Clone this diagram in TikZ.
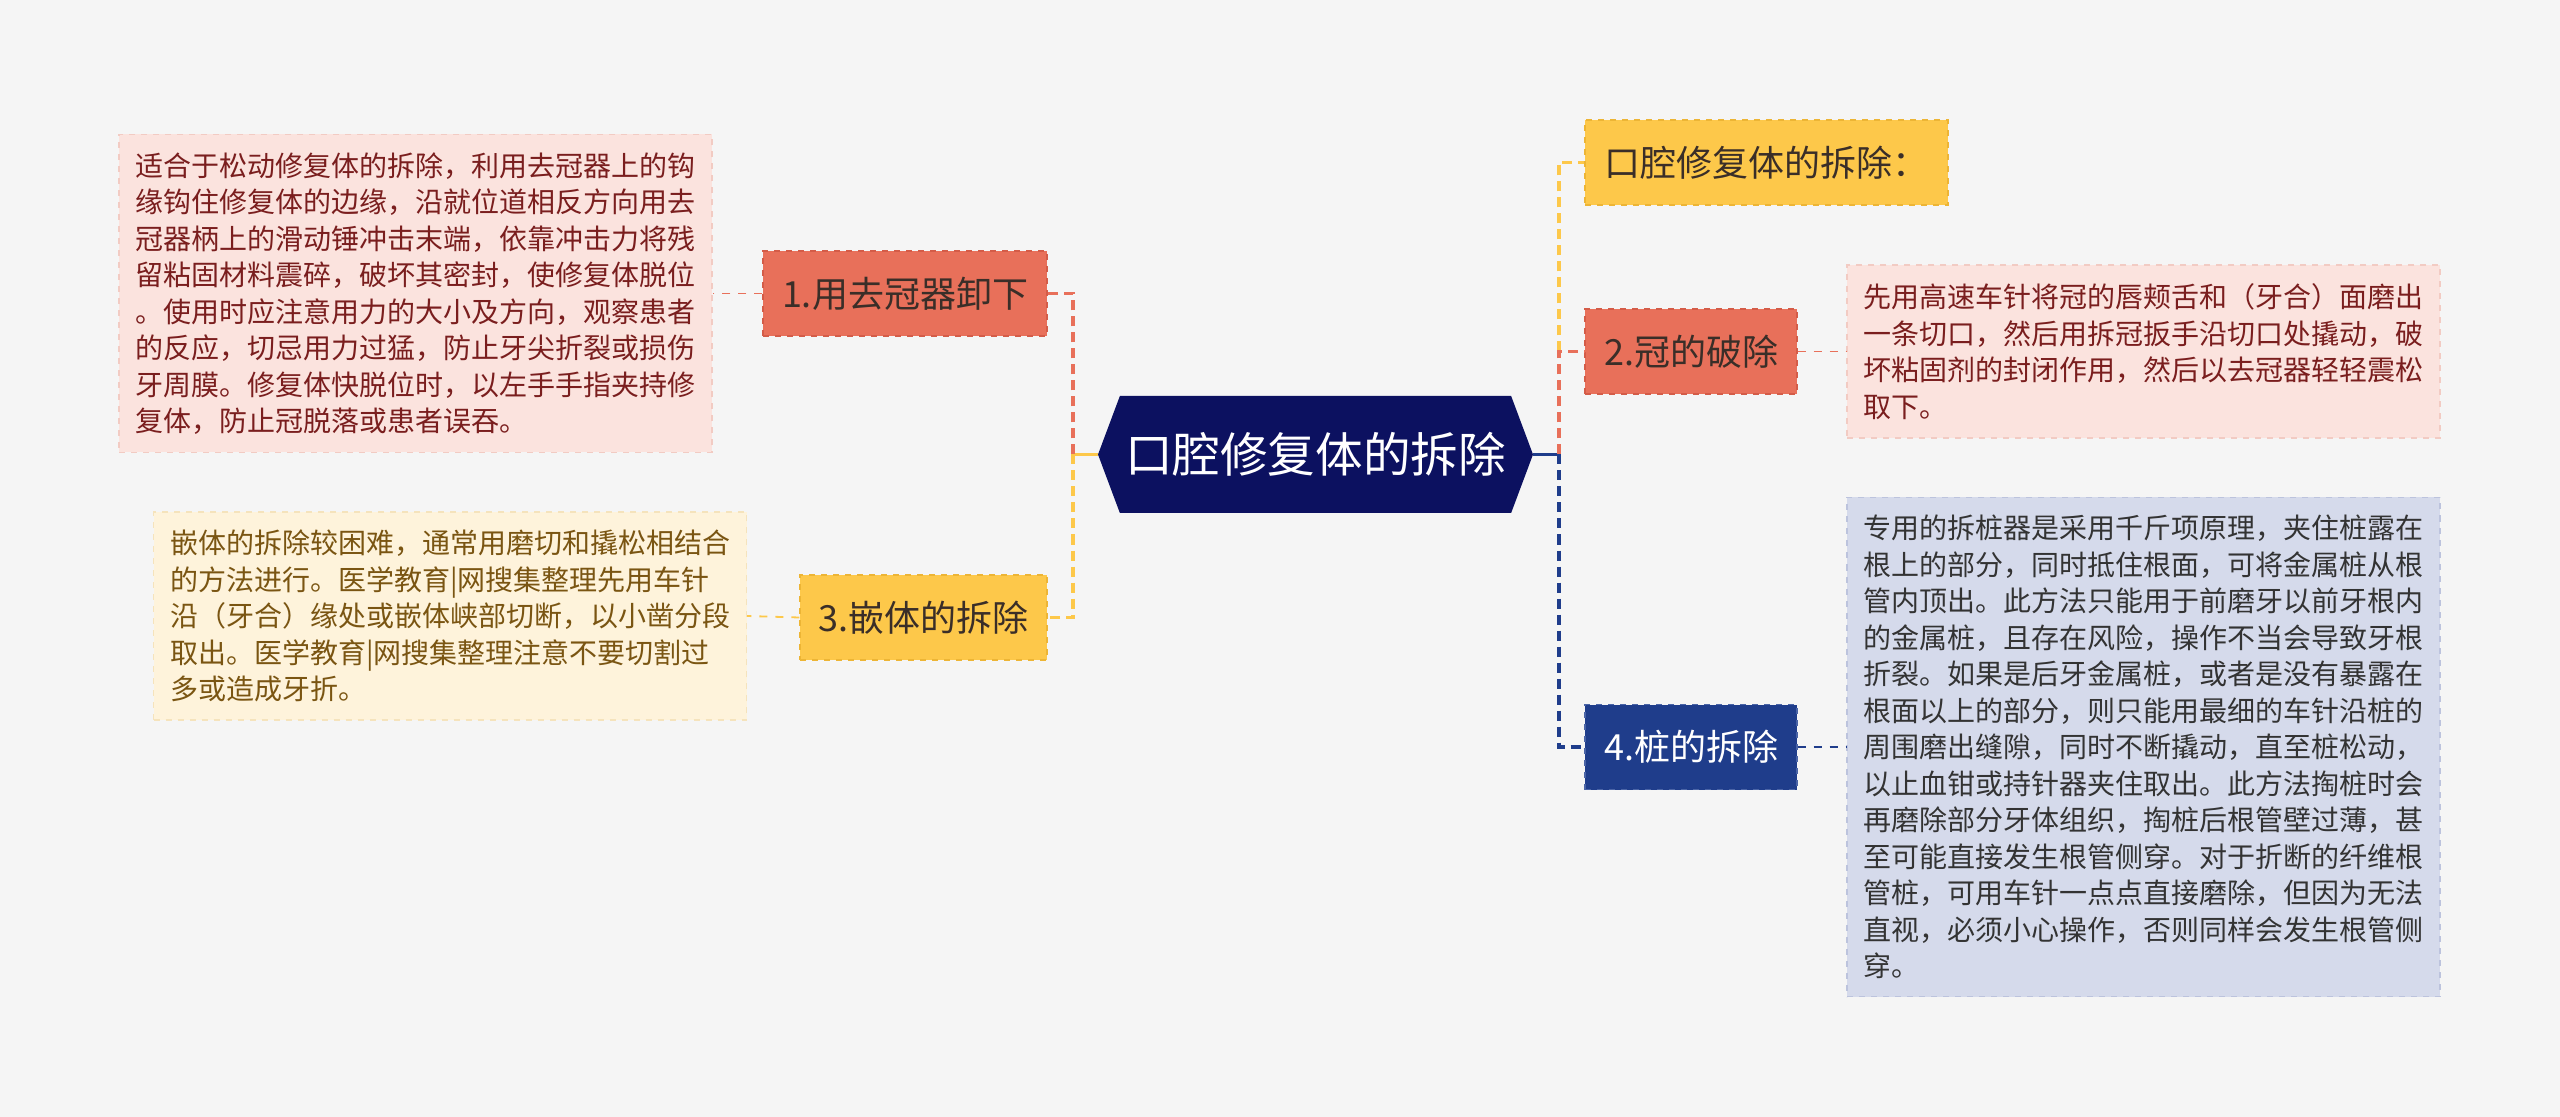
\documentclass[tikz,border=0pt]{standalone}
\usepackage{fontspec}
\setmainfont{Noto Sans CJK SC}
\usetikzlibrary{shapes.symbols}
\definecolor{paper}{HTML}{F5F5F5}
\definecolor{rootblue}{HTML}{0C1160}
\definecolor{coral}{HTML}{E8705A}
\definecolor{coralline}{HTML}{D45C48}
\definecolor{amber}{HTML}{FDC84A}
\definecolor{amberline}{HTML}{EDB535}
\definecolor{navy}{HTML}{1F3D8B}
\definecolor{navyline}{HTML}{4A64A6}
\definecolor{rose}{HTML}{FBE3DE}
\definecolor{roseline}{HTML}{F2CBC3}
\definecolor{cream}{HTML}{FEF3DB}
\definecolor{creamline}{HTML}{F5E3BC}
\definecolor{lilac}{HTML}{D5DAEB}
\definecolor{lilacline}{HTML}{BCC3DD}
\definecolor{inkdark}{HTML}{3A2E28}
\definecolor{inkred}{HTML}{7A1E1E}
\definecolor{inkgold}{HTML}{7A5512}
\definecolor{inkgray}{HTML}{333333}
\begin{document}
\begin{tikzpicture}[x=0.5pt,y=-0.5pt,
  branch/.style={fill=#1,draw=#1line,dashed,line width=0.7pt,minimum height=42.5pt,
    inner sep=0pt,text=inkdark,font=\fontsize{18}{22}\selectfont},
  detail/.style={fill=#1,draw=#1line,dashed,line width=0.6pt,text width=280pt,
    inner xsep=8.25pt,inner ysep=0pt,align=left,font=\fontsize{14}{18.25}\selectfont},
  trunk/.style={draw=#1,line width=1.6pt,dash pattern=on 5pt off 3pt},
  twig/.style={draw=#1,line width=0.9pt,dash pattern=on 4pt off 4pt}]
% background
\fill[paper] (0,0) rectangle (2560,1117);
\useasboundingbox (0,0) rectangle (2560,1117);
% root
\node[signal,signal to=west and east,signal pointer angle=139,fill=rootblue,text=white,
  minimum width=217.5pt,minimum height=58.5pt,inner sep=0pt,
  font=\fontsize{23.8}{28}\selectfont] (root) at (1315.5,454.5) {口腔修复体的拆除};
% branches
\node[branch=coral,minimum width=142pt] (n1) at (905,293.5) {1.用去冠器卸下};
\node[branch=amber,minimum width=123.5pt] (n3) at (923.5,617.5) {3.嵌体的拆除};
\node[branch=amber,minimum width=181.5pt] (nA) at (1766.5,162.5) {口腔修复体的拆除：};
\node[branch=coral,minimum width=106pt] (n2) at (1691,351.5) {2.冠的破除};
\node[branch=navy,minimum width=106pt,text=white] (n4) at (1691,747) {4.桩的拆除};
% details
\node[detail=rose,text=inkred,minimum height=159pt] (d1) at (415.5,293.5) {适合于松动修复体的拆除，利用去冠器上的钩\\缘钩住修复体的边缘，沿就位道相反方向用去\\冠器柄上的滑动锤冲击末端，依靠冲击力将残\\留粘固材料震碎，破坏其密封，使修复体脱位\\。使用时应注意用力的大小及方向，观察患者\\的反应，切忌用力过猛，防止牙尖折裂或损伤\\牙周膜。修复体快脱位时，以左手手指夹持修\\复体，防止冠脱落或患者误吞。};
\node[detail=cream,text=inkgold,minimum height=104pt] (d3) at (450,616) {嵌体的拆除较困难，通常用磨切和撬松相结合\\的方法进行。医学教育|网搜集整理先用车针\\沿（牙合）缘处或嵌体峡部切断，以小凿分段\\取出。医学教育|网搜集整理注意不要切割过\\多或造成牙折。};
\node[detail=rose,text=inkred,minimum height=86.5pt] (d2) at (2143.5,351.5) {先用高速车针将冠的唇颊舌和（牙合）面磨出\\一条切口，然后用拆冠扳手沿切口处撬动，破\\坏粘固剂的封闭作用，然后以去冠器轻轻震松\\取下。};
\node[detail=lilac,text=inkgray,minimum height=249.5pt] (d4) at (2143.5,747) {专用的拆桩器是采用千斤项原理，夹住桩露在\\根上的部分，同时抵住根面，可将金属桩从根\\管内顶出。此方法只能用于前磨牙以前牙根内\\的金属桩，且存在风险，操作不当会导致牙根\\折裂。如果是后牙金属桩，或者是没有暴露在\\根面以上的部分，则只能用最细的车针沿桩的\\周围磨出缝隙，同时不断撬动，直至桩松动，\\以止血钳或持针器夹住取出。此方法掏桩时会\\再磨除部分牙体组织，掏桩后根管壁过薄，甚\\至可能直接发生根管侧穿。对于折断的纤维根\\管桩，可用车针一点点直接磨除，但因为无法\\直视，必须小心操作，否则同样会发生根管侧\\穿。};
% joints
\coordinate (jl) at (1073,454.5);
\coordinate (jr) at (1559,454.5);
% left links
\draw[amber,line width=1.6pt] (root.west) -- (jl);
\draw[trunk=coral] (jl) |- (n1.east);
\draw[trunk=amber] (jl) |- (n3.east);
\draw[twig=coral] (n1.west) -- (d1.east);
\draw[twig=amber] (n3.west) -- (d3.east);
% right links
\draw[navy,line width=1.6pt] (root.east) -- (jr);
\draw[trunk=amber] (jr |- n2.west) |- (nA.west);
\draw[trunk=coral] (jr) |- (n2.west);
\draw[trunk=navy] (jr) |- (n4.west);
\draw[twig=coral] (n2.east) -- (d2.west);
\draw[twig=navy] (n4.east) -- (d4.west);
\end{tikzpicture}
\end{document}
